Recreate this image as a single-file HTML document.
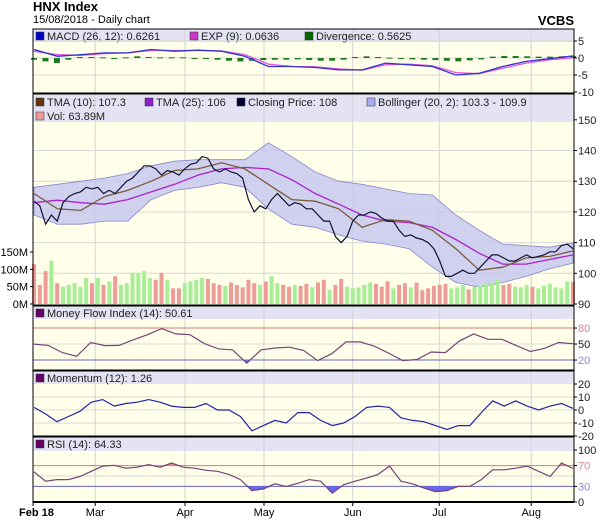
<!DOCTYPE html>
<html><head><meta charset="utf-8"><style>
body{margin:0;background:#fff;}
svg{display:block;font-family:"Liberation Sans",sans-serif;}
</style></head><body>
<svg id="c" width="602" height="525" viewBox="0 0 602 525">
<text x="33" y="11" font-size="13" font-weight="bold">HNX Index</text>
<text x="33" y="23" font-size="11">15/08/2018 - Daily chart</text>
<text x="574" y="25" font-size="13" font-weight="bold" text-anchor="end">VCBS</text>
</svg>
<script>
const closeP=[123.5,122,116,119,117,123,125,126,126.5,128,127.5,128,126,127,126,128,130,131,133,135,135,134,132,133.5,133,132,134,135.5,136,138,137.5,134,133,134,133,132.5,131,124,120,122,121,124,126,124,122,123,122.5,121,121,119,117,117,112,110,112,117,119,119,120,119.5,118,117,117,114,112,112.5,111.5,111,110,108,104,99,99,100,101,100,100,102,104,106,106,105,104,104,105,106,105,105.5,106,107,107,109,109.5,108];
const volume=[115,55,95,125,60,50,55,60,50,75,60,75,55,65,80,55,60,90,90,95,75,70,90,70,45,45,60,65,70,75,72,60,55,52,62,55,48,70,60,55,65,80,60,55,50,55,52,58,48,62,70,40,55,72,50,45,48,55,62,58,50,65,45,55,60,48,62,40,45,52,55,58,45,48,55,42,50,52,60,62,70,55,58,50,48,55,50,45,52,58,48,45,65,64];
const tma10=[126,121,120.5,125,127,130,133.5,134,136,134,129,124,123.5,121,115,117.5,117,114,108,101,102,105,105.5,107.3];
const tma25=[123,123.8,123,122.5,124,126.5,129,132,134,134.5,134,130.5,126,122.5,119,117,116.5,115,111,106.5,103,103,104.5,106];
const bollUp=[128,129,130,131,132.5,135,136.5,137,137,137,142.5,138,133,130,129,127.5,126,125.5,119,114,109.5,109,108.5,109.9];
const bollLo=[119,116,116,117,117,124,127,128,129.5,128,121,116,115,112.5,110.5,109.5,108,102,97,95.5,97,99,101.5,103.3];
const macd=[2.5,0.5,1,1.5,1.5,2.5,2,2.3,2,0.5,-2.5,-2.5,-2.8,-3.5,-3.5,-1.5,-2,-2.5,-5,-4.5,-2.5,-1,-0.2,0.63];
const expSig=[2,1,0.8,1.3,1.5,2.2,2.2,2.2,2.1,1,-1.8,-2.5,-2.6,-3.2,-3.6,-2,-1.8,-2.3,-4.3,-4.6,-3,-1.5,-0.5,0.06];
const diverg=[-0.5,-1,-1.5,-0.5,0.3,0.3,0.2,0,0.2,0.5,0.3,0.2,0.2,0.2,0,-0.3,-0.5,-0.8,-1,-0.8,-0.6,-0.5,-0.5,-0.4,-0.6,-0.8,-0.8,-0.5,0.3,0.5,0.3,0.1,-0.3,-0.4,-0.5,-0.6,-0.8,-1,-0.7,-0.4,0.4,0.6,0.6,0.5,0.4,0.4,0.5,0.56];
const mfi=[50,47.5,34,27,53,47,47.5,58,67.5,79,69,67.5,51,41,39,14,39,42.5,44,38,19,32,54,54,46,33,19,21,35,34,56,69,59,59,47,36,42,53,50.6];
const momentum=[2,-3,-9,-5,-1,6,8,3,5,6,8,6,3,2,2,5,0,0,-5,-16,-12,-8,-10,-2,-2,-8,-12,-10,-5,2,3,2,-6,-8,-9,-12,-15,-12,-12,-2,7,3,7,3,0,3,5,1.26];
const rsi=[58,40,43,43,49,59,69,70.6,65,67,72,67,75,67,65,61,59,53,43,22,25,35,30,36,43,40,17,33,40,46,53,69,40,35,27,20,22,30,30,43,62,62,65,69,59,49,75,64.33];
const monthLabels=["Feb 18","Mar","Apr","May","Jun","Jul","Aug"];
const monthPos=[0,0.115,0.281,0.427,0.591,0.751,0.921]; // fraction of time axis

const NS="http://www.w3.org/2000/svg";
const svg=document.getElementById('c');
const X0=33,X1=574;
function el(t,a,p){const e=document.createElementNS(NS,t);for(const k in a)e.setAttribute(k,a[k]);(p||svg).appendChild(e);return e;}
function xs(i,n){return X0+1+i/(n-1)*(X1-X0-2);}
function pts(arr,yf){return arr.map((v,i)=>xs(i,arr.length).toFixed(1)+','+yf(v).toFixed(1)).join(' ');}

function panel(name,top,bot,bandH,legends){
  const g=el('g',{});
  
  
  el('rect',{x:X0,y:top,width:X1-X0,height:bot-top,fill:'#ffffea'},g);
  const b=el('rect',{x:X0,y:top,width:X1-X0,height:bandH,fill:'#e3e3f3'},g);
  
  
  monthPos.forEach(f=>{if(f>0)el('line',{x1:X0+f*(X1-X0),x2:X0+f*(X1-X0),y1:top,y2:bot,stroke:'#d4d4d4','stroke-width':1},g);});
  legends.forEach((L,k)=>{
    const r=el('rect',{x:L[0],y:L[1]-8,width:8,height:8,fill:L[3],stroke:'#333','stroke-width':0.5},g);
    
    
    const t=el('text',{x:L[0]+11,y:L[1],'font-size':11,fill:'#222'},g);
    t.textContent=L[2];
    
    
  });
  return g;
}
function hline(g,y,c){el('line',{x1:X0,x2:X1,y1:y,y2:y,stroke:c,'stroke-width':1},g);}
function ylab(y,t,c,cls){const e=el('text',{x:578,y:y+4,'font-size':11,fill:c||'#222'});e.textContent=t;
  
  }
function tick(y){el('line',{x1:X1,x2:X1+3,y1:y,y2:y,stroke:'#000'});}

// MACD
const yM=v=>58-3.4*v;
let g=panel('macd',29,93,13,[[36,40,'MACD (26, 12): 0.6261','#0000cc'],[190,40,'EXP (9): 0.0636','#cc33cc'],[305,40,'Divergence: 0.5625','#006600']]);
[5,0,-5].forEach(v=>hline(g,yM(v),'#d8d8d8'));
diverg.forEach((v,i)=>{const x=xs(i,diverg.length);const r=el('rect',{x:x-3,y:Math.min(yM(0),yM(v)),width:6,height:Math.max(1,Math.abs(yM(v)-yM(0))),fill:'#1f7a1f'},g);
  
  });
let p=el('polyline',{points:pts(expSig,yM),fill:'none',stroke:'#dd55dd','stroke-width':1.3},g);

p=el('polyline',{points:pts(macd,yM),fill:'none',stroke:'#3333cc','stroke-width':1.3},g);

[5,0,-5,-10].forEach(v=>{ylab(yM(v),String(v));tick(yM(v));});

// Main
const yP=v=>304-(v-90)*3.07, yV=v=>304-v*0.347;
g=panel('price',94,305,28,[[36,106,'TMA (10): 107.3','#663311'],[145,106,'TMA (25): 106','#8822cc'],[237,106,'Closing Price: 108','#000033'],[367,106,'Bollinger (20, 2): 103.3 - 109.9','#aaaaee'],[36,120,'Vol: 63.89M','#ee9999']]);
[140,130,120,110,100].forEach(v=>hline(g,yP(v),'#d8d8d8'));
const band=bollUp.map((v,i)=>xs(i,bollUp.length).toFixed(1)+','+yP(v).toFixed(1)).concat(bollLo.map((v,i)=>xs(i,bollLo.length).toFixed(1)+','+yP(v).toFixed(1)).reverse()).join(' ');
p=el('polygon',{points:band,fill:'#c8c8f0','fill-opacity':0.85,stroke:'#8888cc','stroke-width':0.8},g);

volume.forEach((v,i)=>{const x=xs(i,volume.length);const up=i>0&&closeP[i]>=closeP[i-1];
  const r=el('rect',{x:x-2,y:yV(v),width:4,height:304-yV(v),fill:up?'#a8ee98':'#ee9c98'},g);
  
  });
p=el('polyline',{points:pts(tma25,yP),fill:'none',stroke:'#aa22cc','stroke-width':1.3},g);

p=el('polyline',{points:pts(tma10,yP),fill:'none',stroke:'#7a5a3a','stroke-width':1.3},g);

p=el('polyline',{points:pts(closeP,yP),fill:'none',stroke:'#111133','stroke-width':1.2},g);

[150,140,130,120,110,100,90].forEach(v=>{ylab(yP(v),String(v));tick(yP(v));});
[[0,'0M'],[50,'50M'],[100,'100M'],[150,'150M']].forEach(a=>{const e=el('text',{x:28,y:yV(a[0])+4,'font-size':11,'text-anchor':'end'});e.textContent=a[1];
  
  
  el('line',{x1:X0-3,x2:X0,y1:yV(a[0]),y2:yV(a[0]),stroke:'#000'});});

function oscillator(name,top,bot,band,arr,yf,legend,color,lo,hi,grid,labels){
  const gg=panel(name,top,bot,band,[[36,top+11,legend,'#660066']]);
  grid.forEach(a=>hline(gg,yf(a[0]),a[1]));
  if(lo!==null){
    const id=name+'clipLo';const cp=el('clipPath',{id:id},gg);el('rect',{x:X0,y:yf(lo),width:X1-X0,height:bot-yf(lo)},cp);
    const poly=pts(arr,yf)+' '+xs(arr.length-1,arr.length)+','+yf(lo)+' '+xs(0,arr.length)+','+yf(lo);
    const f=el('polygon',{points:poly,fill:'#6666ee','clip-path':'url(#'+id+')'},gg);
    
  }
  if(hi!==null){
    const id=name+'clipHi';const cp=el('clipPath',{id:id},gg);el('rect',{x:X0,y:top,width:X1-X0,height:yf(hi)-top},cp);
    const poly=pts(arr,yf)+' '+xs(arr.length-1,arr.length)+','+yf(hi)+' '+xs(0,arr.length)+','+yf(hi);
    const f=el('polygon',{points:poly,fill:'#ee8888','clip-path':'url(#'+id+')'},gg);
    
  }
  const l=el('polyline',{points:pts(arr,yf),fill:'none',stroke:color,'stroke-width':1.2},gg);
  
  labels.forEach(a=>{ylab(yf(a[0]),String(a[0]),a[1]);tick(yf(a[0]));});
}
const yMF=v=>370.7-0.533*v;
oscillator('mfi',306,370,13,mfi,yMF,'Money Flow Index (14): 50.61','#774477',20,null,
  [[80,'#dd7777'],[50,'#d8d8d8'],[20,'#6666cc']],[[80,'#dd8888'],[50,'#222'],[20,'#8888dd']]);
const yMo=v=>410-1.3*v;
oscillator('momentum',371,436,13,momentum,yMo,'Momentum (12): 1.26','#2222aa',null,null,
  [[10,'#d8d8d8'],[0,'#d8d8d8'],[-10,'#d8d8d8']],[[20],[10],[0],[-10],[-20]].map(a=>[a[0],'#222']));
const yR=v=>502-0.52*v;
oscillator('rsi',437,502,14,rsi,yR,'RSI (14): 64.33','#774477',30,70,
  [[70,'#dd7777'],[50,'#d8d8d8'],[30,'#6666cc']],[[100,'#222'],[70,'#dd8888'],[30,'#8888dd'],[0,'#222']]);

// separators and frame
[93.5,305.5,370.5,436.5,502].forEach(y=>el('line',{x1:X0,x2:X1,y1:y,y2:y,stroke:'#000','stroke-width':2}));
el('rect',{x:X0,y:29,width:X1-X0,height:473,fill:'none',stroke:'#000','stroke-width':1});
// x axis
monthLabels.forEach((m,i)=>{const x=X0+monthPos[i]*(X1-X0);
  el('line',{x1:x,x2:x,y1:502,y2:506,stroke:'#000'});
  const t=el('text',{x:i==0?X0-14:x,y:516,'font-size':11,'text-anchor':i==0?'start':'middle','font-weight':i==0?'bold':'normal'});
  t.textContent=m;
  
  });
</script>
</body></html>
